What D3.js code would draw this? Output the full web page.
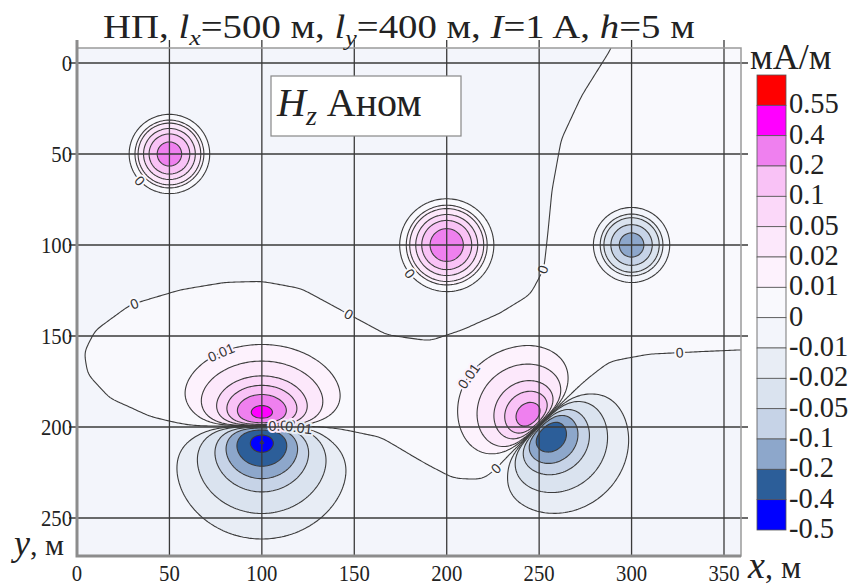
<!DOCTYPE html>
<html>
<head>
<meta charset="utf-8">
<script src="https://cdn.jsdelivr.net/npm/d3@7"></script>
<style>
body { margin: 0; background: #fff; }
svg text { font-family: "Liberation Serif", "Times New Roman", serif; fill: #222; }
</style>
</head>
<body>
<svg id="chart" width="858" height="586"></svg>
<script>
// ---- values ----
var xTicks = [0, 50, 100, 150, 200, 250, 300, 350];
var yTicks = [0, 50, 100, 150, 200, 250];

// contour levels, mA/m (legend labels sit at the bottom edge of each box)
var levels = [-0.5, -0.4, -0.2, -0.1, -0.05, -0.02, -0.01, 0, 0.01, 0.02, 0.05, 0.1, 0.2, 0.4, 0.55];
var levelLabels = ['-0.5', '-0.4', '-0.2', '-0.1', '-0.05', '-0.02', '-0.01', '0', '0.01', '0.02', '0.05', '0.1', '0.2', '0.4', '0.55'];

// round bodies: centre (m), peak value (mA/m), radius (m)
var bodyX = [50, 200, 300];
var bodyY = [50, 100, 100];
var bodyPeak = [0.3, 0.35, -0.15];
var bodyRadius = [7.6, 8.7, 7.9];

// two-lobed anomalies on the loop side: centre, direction + lobe -> - lobe (deg), peaks, depths
var pairX = [100, 250];
var pairY = [199.5, 199];
var pairAngle = [90, 45];
var pairPosPeak = [0.48, 0.3];
var pairNegPeak = [-0.5, -0.35];
var pairPosDepth = [18, 17];
var pairNegDepth = [20, 18];
var pairPosPow = [3.5, 3];
var pairNegPow = [3, 3];
var pairPosSpread = [1.25, 1];
var pairNegSpread = [1, 1];

var backgroundLevel = 0.005;
var zeroLine = [
  [100, 199.5], [66, 198.5], [40, 193.5], [18, 184], [6, 171], [4, 159], [10, 147],
  [29, 133], [56, 125], [80, 121], [100, 120.5], [121, 124.5], [145, 138], [167, 150],
  [191, 154], [210, 148.5], [229, 140], [246, 128], [253, 113], [255, 92], [257, 70],
  [262, 42], [273, 18], [289, -8], [296, -30], [400, -30], [400, 158], [359, 157.7],
  [337, 158.8], [310, 160.4], [288, 164.8], [274, 176], [263, 186.5], [250, 199],
  [243, 206], [236, 214], [229, 222], [220, 228], [204, 227], [186, 218],
  [164, 206], [142, 203], [121, 201.5]
];

// inline contour labels: text, level, position near (m)
var labelText = ['0', '0', '0', '0', '0', '0', '0', '0.01', '0.01', '0.02', '0.01'];
var labelLevel = [0, 0, 0, 0, 0, 0, 0, 0.01, 0.01, 0.02, -0.01];
var labelX = [28.7, 147.6, 253, 326, 232, 34, 181.7, 78.4, 216.9, 111, 120];
var labelY = [127.5, 136.8, 113.7, 161.5, 229, 64, 114.8, 160.4, 175.8, 196, 203];

// colours for values >= levels[i]
var fills = ['#0000ff', '#2c5e99', '#8da7cb', '#c6d3e7', '#dae3ef', '#e8edf5', '#f3f5fb',
             '#f9f9fd', '#fdf2fd', '#fce8fb', '#fbd8f9', '#f9c2f6', '#ef80ef', '#ff00ff', '#ff0000'];

// ---- layout ----
var svg = d3.select('#chart');
var xScale = d3.scaleLinear().domain([0, 350]).range([77, 724]);
var yScale = d3.scaleLinear().domain([0, 250]).range([63, 518]);
var frame = {l: 77, r: 741, t: 48, b: 556};

// ---- field ----
function lobe(u, w, h, n) {
  var q = u / h, s = w / h;
  var qs = 1 / Math.sqrt(2 * n - 1);
  var peak = qs / Math.pow(qs * qs + 1, n);
  return q / Math.pow(q * q + s * s + 1, n) / peak;
}

function signedDist(x, y) {
  var inside = false, dmin = Infinity, n = zeroLine.length;
  for (var i = 0, j = n - 1; i < n; j = i++) {
    var xi = zeroLine[i][0], yi = zeroLine[i][1], xj = zeroLine[j][0], yj = zeroLine[j][1];
    if ((yi > y) !== (yj > y) && x < (xj - xi) * (y - yi) / (yj - yi) + xi) inside = !inside;
    var ex = xj - xi, ey = yj - yi;
    var t = ((x - xi) * ex + (y - yi) * ey) / (ex * ex + ey * ey);
    t = Math.max(0, Math.min(1, t));
    var dx = x - (xi + t * ex), dy = y - (yi + t * ey);
    dmin = Math.min(dmin, Math.sqrt(dx * dx + dy * dy));
  }
  return inside ? dmin : -dmin;
}

function anomaly(x, y) {
  var v = 0;
  bodyX.forEach(function(bx, k) {
    var dx = x - bx, dy = y - bodyY[k], r = bodyRadius[k];
    v += bodyPeak[k] * Math.exp(-(dx * dx + dy * dy) / (2 * r * r));
  });
  pairX.forEach(function(px, k) {
    var a = pairAngle[k] * Math.PI / 180, ux = Math.cos(a), uy = Math.sin(a);
    var dx = x - px, dy = y - pairY[k];
    var u = dx * ux + dy * uy, w = -dx * uy + dy * ux;
    if (u < 0) v += pairPosPeak[k] * lobe(-u, w / pairPosSpread[k], pairPosDepth[k], pairPosPow[k]);
    else v += pairNegPeak[k] * lobe(u, w / pairNegSpread[k], pairNegDepth[k], pairNegPow[k]);
  });
  return v;
}

var step = 1;
var gx0 = xScale.invert(frame.l) - 3, gx1 = xScale.invert(frame.r) + 3;
var gy0 = yScale.invert(frame.t) - 3, gy1 = yScale.invert(frame.b) + 3;
var nx = Math.ceil((gx1 - gx0) / step) + 1;
var ny = Math.ceil((gy1 - gy0) / step) + 1;

var bg = new Float64Array(nx * ny);
for (var j = 0; j < ny; j++) {
  for (var i = 0; i < nx; i++) {
    bg[j * nx + i] = backgroundLevel * Math.tanh(signedDist(gx0 + i * step, gy0 + j * step) / 10);
  }
}
d3.blur2({data: bg, width: nx}, 2);

var values = new Float64Array(nx * ny);
for (j = 0; j < ny; j++) {
  for (i = 0; i < nx; i++) {
    values[j * nx + i] = bg[j * nx + i] + anomaly(gx0 + i * step, gy0 + j * step);
  }
}

var contours = d3.contours().size([nx, ny]).thresholds(levels)(values);

function gridToPx(cx, cy) {
  return [xScale(gx0 + (cx - 0.5) * step), yScale(gy0 + (cy - 0.5) * step)];
}
var path = d3.geoPath(d3.geoTransform({
  point: function(cx, cy) {
    var p = gridToPx(cx, cy);
    this.stream.point(p[0], p[1]);
  }
}));

svg.append('clipPath').attr('id', 'plotClip')
  .append('rect')
  .attr('x', frame.l).attr('y', frame.t)
  .attr('width', frame.r - frame.l).attr('height', frame.b - frame.t);

var plotG = svg.append('g').attr('clip-path', 'url(#plotClip)');

plotG.append('rect')
  .attr('x', frame.l).attr('y', frame.t)
  .attr('width', frame.r - frame.l).attr('height', frame.b - frame.t)
  .attr('fill', fills[0]);

plotG.selectAll('path.band')
  .data(contours)
  .enter().append('path')
  .attr('class', 'band')
  .attr('d', path)
  .attr('fill', function(d, k) { return fills[k]; })
  .attr('stroke', 'none');

plotG.selectAll('path.iso')
  .data(contours)
  .enter().append('path')
  .attr('class', 'iso')
  .attr('d', path)
  .attr('fill', 'none')
  .attr('stroke', '#3c3c3c')
  .attr('stroke-width', 1.1);

// ---- contour labels ----
function colourAt(v) {
  var c = fills[0];
  levels.forEach(function(l, k) { if (v >= l) c = fills[k]; });
  return c;
}

labelText.forEach(function(txt, k) {
  var ci = levels.indexOf(labelLevel[k]);
  var target = [xScale(labelX[k]), yScale(labelY[k])];
  var best = null, bestD = Infinity;
  contours[ci].coordinates.forEach(function(poly) {
    poly.forEach(function(ring) {
      var pts = ring.map(function(p) { return gridToPx(p[0], p[1]); });
      pts.forEach(function(p, m) {
        var d = (p[0] - target[0]) * (p[0] - target[0]) + (p[1] - target[1]) * (p[1] - target[1]);
        if (d < bestD) { bestD = d; best = {pts: pts, m: m}; }
      });
    });
  });
  if (!best) return;
  var pts = best.pts, n = pts.length;
  var p0 = pts[(best.m - 3 + n) % n], p1 = pts[(best.m + 3) % n], pc = pts[best.m];
  var ang = Math.atan2(p1[1] - p0[1], p1[0] - p0[0]) * 180 / Math.PI;
  if (ang > 90) ang -= 180;
  if (ang < -90) ang += 180;
  plotG.append('text')
    .attr('transform', 'translate(' + pc[0] + ',' + pc[1] + ') rotate(' + ang + ')')
    .attr('text-anchor', 'middle')
    .attr('dy', '0.35em')
    .style('font-family', '"Liberation Sans", Arial, sans-serif')
    .style('font-size', '14px')
    .style('fill', '#333')
    .style('stroke', colourAt(labelLevel[k] >= 0 ? labelLevel[k] + 0.001 : labelLevel[k] - 0.001))
    .style('stroke-width', 4)
    .style('paint-order', 'stroke')
    .text(txt);
});

// ---- grid ----
var gridG = svg.append('g');
yTicks.forEach(function(t) {
  gridG.append('line')
    .attr('x1', frame.l - 8).attr('x2', frame.r + 7)
    .attr('y1', yScale(t)).attr('y2', yScale(t))
    .attr('stroke', '#3a3a3a').attr('stroke-width', 1.3);
});
xTicks.forEach(function(t) {
  gridG.append('line')
    .attr('x1', xScale(t)).attr('x2', xScale(t))
    .attr('y1', frame.t - 8).attr('y2', frame.b)
    .attr('stroke', '#3a3a3a').attr('stroke-width', 1.3);
});

// frame
svg.append('rect')
  .attr('x', frame.l).attr('y', frame.t)
  .attr('width', frame.r - frame.l).attr('height', frame.b - frame.t)
  .attr('fill', 'none').attr('stroke', '#9a9a9a').attr('stroke-width', 1.5);
svg.append('path')
  .attr('d', 'M' + frame.l + ',' + (frame.t - 8) + 'V' + frame.b + 'H' + frame.r)
  .attr('fill', 'none').attr('stroke', '#8c8c8c').attr('stroke-width', 3);

// ---- text helpers ----
function putText(str, x, y, size, anchor, sx) {
  return svg.append('text')
    .attr('transform', 'translate(' + x + ',' + y + ') scale(' + (sx || 1) + ',1)')
    .attr('text-anchor', anchor || 'start')
    .style('font-size', size + 'px')
    .text(str);
}

yTicks.forEach(function(t) { putText(String(t), 72, yScale(t) + 8, 23, 'end', 0.9); });
xTicks.forEach(function(t) { putText(String(t), xScale(t), 581, 23, 'middle', 0.9); });

// axis names
var yName = svg.append('text').attr('transform', 'translate(14,555)').style('font-size', '36px');
yName.append('tspan').style('font-style', 'italic').text('y');
yName.append('tspan').style('font-size', '30px').text(', м');
var xName = svg.append('text').attr('transform', 'translate(748,578)').style('font-size', '38px');
xName.append('tspan').style('font-style', 'italic').text('x');
xName.append('tspan').style('font-size', '32px').text(', м');

// title
var title = svg.append('text').style('font-size', '33px');
title.append('tspan').text('НП, ');
title.append('tspan').style('font-style', 'italic').text('l');
title.append('tspan').style('font-style', 'italic').style('font-size', '22px').attr('dy', 7).text('x');
title.append('tspan').attr('dy', -7).text('=500 м, ');
title.append('tspan').style('font-style', 'italic').text('l');
title.append('tspan').style('font-style', 'italic').style('font-size', '22px').attr('dy', 7).text('y');
title.append('tspan').attr('dy', -7).text('=400 м, ');
title.append('tspan').style('font-style', 'italic').text('I');
title.append('tspan').text('=1 A, ');
title.append('tspan').style('font-style', 'italic').text('h');
title.append('tspan').text('=5 м');
var tw = title.node().getBBox().width;
title.attr('transform', 'translate(103,38) scale(' + (592 / tw) + ',1)');

// panel name box
svg.append('rect')
  .attr('x', 271).attr('y', 76).attr('width', 190).attr('height', 60)
  .attr('fill', '#fff').attr('stroke', '#888').attr('stroke-width', 1.2);
var hz = svg.append('text').attr('transform', 'translate(277,116)').style('font-size', '40px');
hz.append('tspan').style('font-style', 'italic').text('H');
hz.append('tspan').style('font-style', 'italic').style('font-size', '28px').attr('dy', 9).text('z');
hz.append('tspan').attr('dy', -9).text(' Аном');

// ---- legend ----
var legTop = 75, legH = (530 - 75) / levels.length;
var legG = svg.append('g');
levels.slice().reverse().forEach(function(l, k) {
  var idx = levels.length - 1 - k;
  legG.append('rect')
    .attr('x', 757).attr('y', legTop + k * legH)
    .attr('width', 29).attr('height', legH)
    .attr('fill', fills[idx]).attr('stroke', '#555').attr('stroke-width', 0.8);
  putText(levelLabels[idx], 789, legTop + (k + 1) * legH + 8, 30, 'start', 0.95);
});
putText('мА/м', 750, 69, 36, 'start', 1);
</script>
</body>
</html>
